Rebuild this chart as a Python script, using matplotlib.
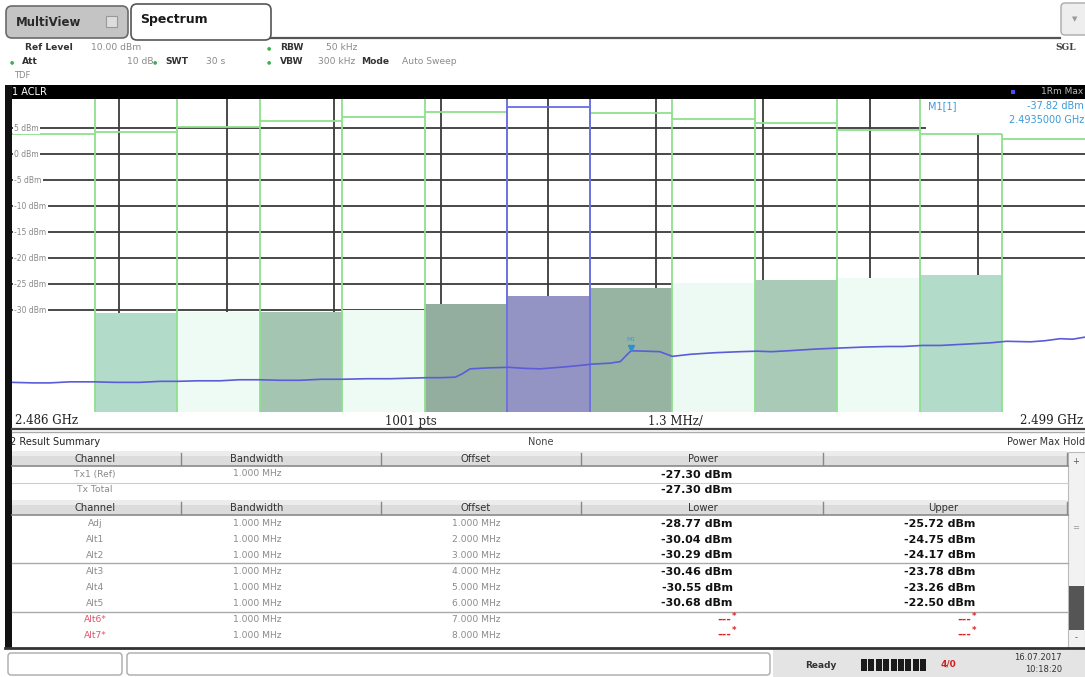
#!/usr/bin/env python3
"""
Spectrum analyzer ACLR screen: spectrum with channel power bars and result summary table.
"""

import matplotlib
matplotlib.use('Agg')
import matplotlib.pyplot as plt
from matplotlib.patches import Rectangle, FancyBboxPatch

span_start_ghz = 2.486
span_stop_ghz = 2.499
tx_center_ghz = 2.4925
channel_bw_mhz = 1.0

channel_names = ['Adj', 'Alt1', 'Alt2', 'Alt3', 'Alt4', 'Alt5', 'Alt6*', 'Alt7*']
offsets_mhz = [1, 2, 3, 4, 5, 6, 7, 8]
lower_dbm = [-28.77, -30.04, -30.29, -30.46, -30.55, -30.68, None, None]
upper_dbm = [-25.72, -24.75, -24.17, -23.78, -23.26, -22.50, None, None]
tx_power_dbm = -27.30

# limit lines drawn above each channel (Adj .. Alt5)
limit_lower_dbm = [8.1, 7.1, 6.4, 5.3, 4.3, 3.8]
limit_upper_dbm = [8.0, 6.8, 6.0, 4.7, 3.8, 2.9]
tx_limit_dbm = 9.0

# trace (offset from span start in MHz, level in dBm)
trace_mhz = [0.0, 0.25, 0.46, 0.7, 0.99, 1.25, 1.55, 1.8, 2.01, 2.25, 2.52, 2.75,
             3.0, 3.25, 3.49, 3.75, 4.01, 4.3, 4.58, 4.8, 5.03, 5.2, 5.37, 5.45,
             5.55, 5.79, 6.02, 6.2, 6.4, 6.64, 6.85, 7.02, 7.25, 7.37, 7.45, 7.5,
             7.67, 7.85, 8.0, 8.22, 8.51, 8.82, 9.03, 9.2, 9.43, 9.73, 10.02,
             10.34, 10.62, 10.8, 11.03, 11.25, 11.49, 11.85, 12.05, 12.34, 12.51,
             12.7, 12.85, 13.0]
trace_dbm = [-43.9, -44.0, -44.0, -43.8, -43.8, -43.9, -43.9, -43.7, -43.7, -43.6,
             -43.6, -43.4, -43.4, -43.5, -43.5, -43.3, -43.3, -43.2, -43.2, -43.1,
             -43.0, -43.0, -42.9, -42.3, -41.3, -41.1, -41.0, -41.2, -41.3, -41.0,
             -40.7, -40.4, -40.2, -39.9, -38.6, -37.82, -37.9, -38.0, -38.9, -38.5,
             -38.2, -38.0, -37.9, -38.0, -37.8, -37.5, -37.3, -37.1, -37.0, -37.0,
             -36.8, -36.8, -36.6, -36.3, -36.0, -36.1, -35.9, -35.5, -35.6, -35.2]

marker_ghz = 2.4935
marker_dbm = -37.82

grid_levels = [5, 0, -5, -10, -15, -20, -25, -30]

W, H = 1085, 677
fig = plt.figure(figsize=(W / 100, H / 100), dpi=100)
fig.patch.set_facecolor('white')

# overlay axes in pixel coordinates for the instrument chrome
ov = fig.add_axes([0, 0, 1, 1], zorder=0)
ov.set_xlim(0, W)
ov.set_ylim(H, 0)
ov.axis('off')

dark = '#333333'
gray = '#8a8a8a'
green_dot = '#3cb050'

# --- tabs ---
ov.add_patch(FancyBboxPatch((6, 6), 122, 32, boxstyle='round,pad=0,rounding_size=6',
                            fc='#c4c4c4', ec='#6a6a6a', lw=1.2))
ov.text(16, 22, 'MultiView', fontsize=8.5, fontweight='bold', color='#2a2a2a', va='center')
ov.add_patch(Rectangle((106, 16), 11, 11, fc='#dddddd', ec='#999999', lw=0.8))
ov.add_patch(FancyBboxPatch((131, 4), 140, 36, boxstyle='round,pad=0,rounding_size=6',
                            fc='white', ec='#555555', lw=1.2))
ov.text(140, 19, 'Spectrum', fontsize=9, fontweight='bold', color='#1a1a1a', va='center')
ov.plot([271, 1060], [37.5, 37.5], color='#555555', lw=1.6)
ov.add_patch(FancyBboxPatch((1061, 3), 30, 32, boxstyle='round,pad=0,rounding_size=4',
                            fc='#eeeeee', ec='#aaaaaa', lw=1))
ov.text(1075, 19, '▼', fontsize=5, color='#999999', ha='center', va='center')

# --- header settings ---
hdr_fs = 6.6
ov.text(25, 48, 'Ref Level', fontsize=hdr_fs, fontweight='bold', color=dark, va='center')
ov.text(91, 48, '10.00 dBm', fontsize=hdr_fs, color=gray, va='center')
ov.text(267, 48, '●', fontsize=3.5, color=green_dot, va='center')
ov.text(280, 48, 'RBW', fontsize=hdr_fs, fontweight='bold', color=dark, va='center')
ov.text(326, 48, '50 kHz', fontsize=hdr_fs, color=gray, va='center')
ov.text(10, 62, '●', fontsize=3.5, color=green_dot, va='center')
ov.text(22, 62, 'Att', fontsize=hdr_fs, fontweight='bold', color=dark, va='center')
ov.text(127, 62, '10 dB', fontsize=hdr_fs, color=gray, va='center')
ov.text(153, 62, '●', fontsize=3.5, color=green_dot, va='center')
ov.text(165, 62, 'SWT', fontsize=hdr_fs, fontweight='bold', color=dark, va='center')
ov.text(206, 62, '30 s', fontsize=hdr_fs, color=gray, va='center')
ov.text(267, 62, '●', fontsize=3.5, color=green_dot, va='center')
ov.text(280, 62, 'VBW', fontsize=hdr_fs, fontweight='bold', color=dark, va='center')
ov.text(318, 62, '300 kHz', fontsize=hdr_fs, color=gray, va='center')
ov.text(361, 62, 'Mode', fontsize=hdr_fs, fontweight='bold', color=dark, va='center')
ov.text(402, 62, 'Auto Sweep', fontsize=hdr_fs, color=gray, va='center')
ov.text(14, 76, 'TDF', fontsize=6, color=gray, va='center')
ov.text(1076, 47, 'SGL', fontsize=6.5, fontweight='bold', color='#444444',
        ha='right', va='center', family='DejaVu Serif')

# --- black title bar and left frame ---
ov.add_patch(Rectangle((6, 85), W - 6, 14, fc='black', ec='none'))
ov.add_patch(Rectangle((5, 85), 7, 563, fc='#111111', ec='none'))
ov.text(12, 92, '1 ACLR', fontsize=7, color='white', va='center')
ov.add_patch(Rectangle((1011, 90), 4, 4, fc='#4a4aff', ec='none'))
ov.text(1083, 92, '1Rm Max', fontsize=6.5, color='#bbbbbb', ha='right', va='center')

# --- spectrum axes ---
ax_left, ax_top, ax_w, ax_h = 12, 99, W - 12, 313
ax = fig.add_axes([ax_left / W, 1 - (ax_top + ax_h) / H, ax_w / W, ax_h / H], zorder=1)
y_bot, y_top = -49.6, 10.6
ax.set_xlim(span_start_ghz, span_stop_ghz)
ax.set_ylim(y_bot, y_top)
ax.set_facecolor('white')
for s in ax.spines.values():
    s.set_visible(False)
ax.set_xticks([])
ax.set_yticks([])

div_ghz = (span_stop_ghz - span_start_ghz) / 10
for k in range(1, 10):
    ax.axvline(span_start_ghz + k * div_ghz, color='#3a3a3a', lw=1.3, zorder=1)
for lv in grid_levels:
    ax.axhline(lv, color='#3a3a3a', lw=1.3, zorder=1)
    ax.text(span_start_ghz + 0.00003, lv, f'{lv} dBm', fontsize=5.5, color='#888888',
            va='center', ha='left', zorder=6,
            bbox=dict(boxstyle='square,pad=0.15', fc='white', ec='none'))

bw = channel_bw_mhz / 1000
lower_colors = ['#93ae9e', '#eefbf5', '#a3c5b2', '#eefbf5', '#b3dbc9', '#ffffff']
upper_colors = ['#97b3a1', '#edfaf3', '#a8cab7', '#eefbf5', '#b3dbc9', '#ffffff']

# channels ordered left to right
chan_centers = []
chan_powers = []
chan_colors = []
chan_limits = []
for i in range(5, -1, -1):
    chan_centers.append(tx_center_ghz - offsets_mhz[i] / 1000)
    chan_powers.append(lower_dbm[i])
    chan_colors.append(lower_colors[i])
    chan_limits.append(limit_lower_dbm[i])
chan_centers.append(tx_center_ghz)
chan_powers.append(tx_power_dbm)
chan_colors.append('#9494c4')
chan_limits.append(tx_limit_dbm)
for i in range(6):
    chan_centers.append(tx_center_ghz + offsets_mhz[i] / 1000)
    chan_powers.append(upper_dbm[i])
    chan_colors.append(upper_colors[i])
    chan_limits.append(limit_upper_dbm[i])

ax.bar(chan_centers, [p - y_bot for p in chan_powers], width=bw, bottom=y_bot,
       color=chan_colors, edgecolor='none', zorder=2)

# white box behind the marker readout
readout_left = 2.49707
ax.add_patch(Rectangle((readout_left, 3.6), span_stop_ghz - readout_left, y_top - 3.6,
                       fc='white', ec='none', zorder=2.5))

limit_green = '#8fe08f'
tx_blue = '#6a6ae6'
for c, lim in zip(chan_centers, chan_limits):
    col = tx_blue if c == tx_center_ghz else limit_green
    ax.hlines(lim, c - bw / 2, c + bw / 2, color=col, lw=1.3, zorder=3)
for j in range(len(chan_centers) - 1):
    edge = chan_centers[j] + bw / 2
    top = y_top if edge < readout_left + 0.0004 else chan_limits[j]
    ax.vlines(edge, y_bot, top, color=limit_green, lw=1.3, zorder=3)
for edge in (tx_center_ghz - bw / 2, tx_center_ghz + bw / 2):
    ax.vlines(edge, y_bot, y_top, color=tx_blue, lw=1.3, zorder=3)

trace_ghz = [span_start_ghz + m / 1000 for m in trace_mhz]
ax.plot(trace_ghz, trace_dbm, color='#5c5cd8', lw=1.2, zorder=4)
ax.plot([marker_ghz], [marker_dbm + 0.6], marker='v', ms=4, color='#2f8fd0', zorder=5)
ax.text(marker_ghz, marker_dbm + 1.6, 'M1', fontsize=4.5, color='#3a9ad8',
        ha='center', va='bottom', zorder=5)

# marker readout
ax.text(readout_left + 0.00003, 9.3, 'M1[1]', fontsize=7, color='#3a9ad8',
        ha='left', va='center', zorder=6)
ax.text(2.49899, 9.3, f'{marker_dbm:.2f} dBm', fontsize=7, color='#3a9ad8',
        ha='right', va='center', zorder=6)
ax.text(2.49899, 6.6, f'{marker_ghz:.7f} GHz', fontsize=7, color='#3a9ad8',
        ha='right', va='center', zorder=6)

# frequency axis labels
ov.text(15, 421, f'{span_start_ghz:.3f} GHz', fontsize=8.5, family='DejaVu Serif',
        color='#222222', va='center')
ov.text(385, 421, '1001 pts', fontsize=8.5, family='DejaVu Serif', color='#222222', va='center')
ov.text(648, 421, f'{div_ghz * 1000:.1f} MHz/', fontsize=8.5, family='DejaVu Serif',
        color='#222222', va='center')
ov.text(1083, 421, f'{span_stop_ghz:.3f} GHz', fontsize=8.5, family='DejaVu Serif',
        color='#222222', va='center', ha='right')
ov.plot([12, W], [429, 429], color='#444444', lw=1.6)
ov.plot([12, W], [432, 432], color='#aaaaaa', lw=1)

# --- result summary table ---
ov.text(10, 442, '2 Result Summary', fontsize=7, color='#222222', va='center')
ov.text(528, 442, 'None', fontsize=7, color='#444444', va='center')
ov.text(1085, 442, 'Power Max Hold', fontsize=7, color='#333333', va='center', ha='right')

col_x = [95, 257, 476, 703, 943]
dividers = [181, 381, 581, 823]
tbl_fs = 6.6
val_fs = 8


def header_row(yc, labels):
    ov.add_patch(Rectangle((12, yc - 8), 1056, 15, fc='#dcdcdc', ec='none'))
    ov.add_patch(Rectangle((12, yc - 8), 1056, 5, fc='#ececec', ec='none'))
    ov.plot([12, 1068], [yc + 7, yc + 7], color='#8a8a8a', lw=1.2)
    for d in dividers:
        ov.plot([d, d], [yc - 6, yc + 6], color='#888888', lw=1)
    ov.plot([1067, 1067], [yc - 6, yc + 6], color='#888888', lw=1)
    for x, lab in zip(col_x, labels):
        ov.text(x, yc, lab, fontsize=7.2, color='#333333', ha='center', va='center')


header_row(459, ['Channel', 'Bandwidth', 'Offset', 'Power', ''])
ov.text(col_x[0], 474, 'Tx1 (Ref)', fontsize=tbl_fs, color=gray, ha='center', va='center')
ov.text(col_x[1], 474, f'{channel_bw_mhz:.3f} MHz', fontsize=tbl_fs, color=gray,
        ha='center', va='center')
ov.text(col_x[3] - 6, 475, f'{tx_power_dbm:.2f} dBm', fontsize=val_fs, fontweight='bold',
        color='#111111', ha='center', va='center')
ov.plot([12, 1068], [483, 483], color='#cccccc', lw=0.8)
ov.text(col_x[0], 489, 'Tx Total', fontsize=tbl_fs, color=gray, ha='center', va='center')
ov.text(col_x[3] - 6, 490, f'{tx_power_dbm:.2f} dBm', fontsize=val_fs, fontweight='bold',
        color='#111111', ha='center', va='center')
header_row(508, ['Channel', 'Bandwidth', 'Offset', 'Lower', 'Upper'])

row_y = [524, 540, 555, 572, 588, 603, 620, 635]
for name, off, lo, up, yc in zip(channel_names, offsets_mhz, lower_dbm, upper_dbm, row_y):
    red = lo is None
    ov.text(col_x[0], yc, name, fontsize=tbl_fs, color='#e8506a' if red else gray,
            ha='center', va='center')
    ov.text(col_x[1], yc, f'{channel_bw_mhz:.3f} MHz', fontsize=tbl_fs, color=gray,
            ha='center', va='center')
    ov.text(col_x[2], yc, f'{off:.3f} MHz', fontsize=tbl_fs, color=gray,
            ha='center', va='center')
    if red:
        for cx in (col_x[3], col_x[4]):
            ov.text(cx + 28, yc, '---', fontsize=val_fs, fontweight='bold',
                    color='#e02020', ha='right', va='center')
            ov.text(cx + 29, yc - 4, '*', fontsize=6, fontweight='bold',
                    color='#e02020', ha='left', va='center')
    else:
        ov.text(col_x[3] - 6, yc, f'{lo:.2f} dBm', fontsize=val_fs, fontweight='bold',
                color='#111111', ha='center', va='center')
        ov.text(col_x[4] - 3, yc, f'{up:.2f} dBm', fontsize=val_fs, fontweight='bold',
                color='#111111', ha='center', va='center')
ov.plot([12, 1068], [563, 563], color='#aaaaaa', lw=1)
ov.plot([12, 1068], [612, 612], color='#aaaaaa', lw=1)

# scrollbar
ov.add_patch(Rectangle((1068, 452), 17, 196, fc='#f2f2f2', ec='#bbbbbb', lw=0.8))
ov.text(1076, 462, '+', fontsize=6, color='#555555', ha='center', va='center')
ov.text(1076, 528, '=', fontsize=6, color='#999999', ha='center', va='center')
ov.add_patch(Rectangle((1069, 586), 15, 44, fc='#555555', ec='none'))
ov.text(1076, 638, '-', fontsize=6, color='#555555', ha='center', va='center')

ov.plot([5, W], [648, 648], color='#333333', lw=2)

# --- status bar ---
ov.add_patch(FancyBboxPatch((8, 653), 114, 22, boxstyle='round,pad=0,rounding_size=3',
                            fc='white', ec='#aaaaaa', lw=1))
ov.add_patch(FancyBboxPatch((127, 653), 643, 22, boxstyle='round,pad=0,rounding_size=3',
                            fc='white', ec='#aaaaaa', lw=1))
ov.add_patch(Rectangle((773, 650), 312, 27, fc='#e4e4e4', ec='none'))
ov.text(805, 665, 'Ready', fontsize=6.5, fontweight='bold', color='#333333', va='center')
for k in range(9):
    ov.add_patch(Rectangle((861 + k * 7.4, 659), 6, 12, fc='#1a1a1a', ec='none'))
ov.text(948, 664, '4/0', fontsize=6.5, fontweight='bold', color='#d02020',
        ha='center', va='center')
ov.text(1062, 658, '16.07.2017', fontsize=6, color='#333333', ha='right', va='center')
ov.text(1062, 670, '10:18:20', fontsize=6, color='#333333', ha='right', va='center')

plt.savefig('out.png', dpi=100)
